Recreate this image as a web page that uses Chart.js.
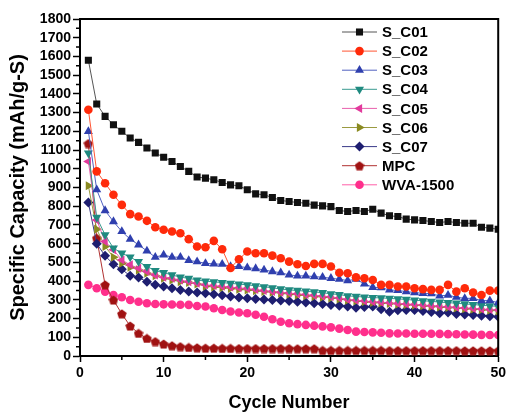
<!DOCTYPE html>
<html>
<head>
<meta charset="utf-8">
<script src="https://cdn.jsdelivr.net/npm/chart.js@4/dist/chart.umd.min.js"></script>
<style>
  html, body { margin: 0; padding: 0; background: #fff; }
  #wrap { width: 509px; height: 412px; }
</style>
</head>
<body>
<div id="wrap"><canvas id="capChart" width="509" height="412"></canvas></div>
<script>
// cycle numbers
var cycles = [1,2,3,4,5,6,7,8,9,10,11,12,13,14,15,16,17,18,19,20,21,22,23,24,25,
  26,27,28,29,30,31,32,33,34,35,36,37,38,39,40,41,42,43,44,45,46,47,48,49,50];

// specific capacity (mAh/g-S)
var sC01 = [1580,1346,1280,1235,1200,1164,1141,1111,1084,1062,1039,1012,986,956,950,941,927,914,909,888,
  866,861,847,831,825,820,816,806,802,798,777,772,777,772,784,763,749,745,731,727,724,718,713,718,713,709,709,688,683,677];
var sC02 = [1315,986,923,861,807,758,745,722,688,674,665,656,624,585,581,615,570,470,517,558,
  549,549,536,522,504,490,481,492,492,478,445,442,420,415,406,380,380,371,371,362,357,353,353,380,344,362,339,326,349,349];
var sC03 = [1200,888,777,718,665,624,594,561,528,540,528,528,510,504,495,492,490,478,478,472,
  467,460,451,445,433,428,428,424,421,415,410,403,410,385,367,365,353,350,344,339,335,333,321,325,314,308,308,296,296,285];
var sC04 = [1084,740,647,576,549,528,504,478,456,445,433,421,415,406,400,396,392,388,384,380,
  375,370,364,358,353,350,346,342,338,332,328,321,318,315,312,310,308,305,302,298,295,292,288,285,282,278,275,271,268,265];
var sC05 = [1039,727,611,567,513,487,469,451,433,421,415,406,397,388,380,376,372,368,364,360,
  355,350,345,340,336,332,328,324,320,316,310,302,298,294,290,287,284,281,278,275,272,269,266,263,260,257,254,251,248,246];
var sC06 = [909,677,585,528,496,474,460,442,428,415,406,397,392,385,372,368,364,360,356,352,
  348,344,340,335,330,326,322,318,314,310,305,298,294,290,286,283,280,277,274,271,268,265,262,259,256,253,250,247,244,241];
var sC07 = [820,600,535,490,463,428,419,397,380,371,362,353,344,339,335,330,325,318,312,308,
  305,302,299,296,294,290,286,282,278,273,268,264,258,262,264,250,237,245,246,246,240,235,228,232,225,222,219,215,212,210];
var mpc = [1135,629,380,299,225,160,121,94,77,64,55,50,46,44,42,42,41,41,40,40,
  40,40,40,40,40,39,39,39,30,30,30,30,30,30,30,30,29,29,29,29,29,29,29,29,29,28,28,28,28,28];
var wva = [380,362,344,326,314,299,290,282,278,276,275,274,273,267,264,255,246,238,232,228,
  220,210,196,183,175,170,166,162,158,153,146,139,130,128,126,124,121,120,120,119,119,119,118,117,116,115,114,113,112,112];

var xTicks = [0, 10, 20, 30, 40, 50];
var fontFamily = "'Liberation Sans', Arial, sans-serif";

// pentagon marker for MPC
function pentagon(color, size) {
  var c = document.createElement("canvas");
  c.width = size;
  c.height = size;
  var g = c.getContext("2d");
  var r = size / 2;
  g.fillStyle = color;
  g.beginPath();
  for (var i = 0; i < 5; i++) {
    var a = -Math.PI / 2 + i * 2 * Math.PI / 5;
    var px = r + Math.cos(a) * r;
    var py = r + 0.5 + Math.sin(a) * r;
    if (i == 0) g.moveTo(px, py); else g.lineTo(px, py);
  }
  g.closePath();
  g.fill();
  return c;
}

function series(label, values, color, lineColor, style, radius, rotation) {
  return {
    label: label,
    data: values.map(function (v, i) { return { x: cycles[i], y: v }; }),
    borderColor: lineColor,
    backgroundColor: color,
    borderWidth: 1,
    pointStyle: style,
    pointRotation: rotation || 0,
    pointRadius: radius,
    pointBackgroundColor: color,
    pointBorderColor: color,
    pointBorderWidth: 0,
    tension: 0,
  };
}

var datasets = [
  series("S_C01", sC01, "#111111", "#555555", "rect", 5),
  series("S_C02", sC02, "#ff2a0a", "#ff5533", "circle", 4.3),
  series("S_C03", sC03, "#2f3fae", "#5060c0", "triangle", 5.2),
  series("S_C04", sC04, "#1f8a80", "#3a9a90", "triangle", 5.2, 180),
  series("S_C05", sC05, "#e23a9c", "#e860ad", "triangle", 5.2, 270),
  series("S_C06", sC06, "#8a8a20", "#9a9a40", "triangle", 5.2, 90),
  series("S_C07", sC07, "#1e1e70", "#3a3a88", "rectRot", 5),
  series("MPC", mpc, "#a01212", "#b03030", pentagon("#a01212", 10), 5),
  series("WVA-1500", wva, "#ff2f8c", "#ff60a8", "circle", 4.3),
];

// frame on top and right, minor ticks
var framePlugin = {
  id: "frame",
  afterDraw: function (chart) {
    let ctx = chart.ctx;
    let a = chart.chartArea;
    let xs = chart.scales.x;
    let ys = chart.scales.y;
    ctx.save();
    ctx.strokeStyle = "#000";
    ctx.lineWidth = 2;
    ctx.beginPath();
    ctx.moveTo(a.left, a.top);
    ctx.lineTo(a.right, a.top);
    ctx.lineTo(a.right, a.bottom);
    ctx.stroke();
    ctx.lineWidth = 1.5;
    ctx.beginPath();
    for (let v = 50; v < 1800; v += 100) {
      let py = ys.getPixelForValue(v);
      ctx.moveTo(a.left - 4, py);
      ctx.lineTo(a.left, py);
    }
    for (let v = 5; v < 50; v += 10) {
      let px = xs.getPixelForValue(v);
      ctx.moveTo(px, a.bottom);
      ctx.lineTo(px, a.bottom + 4);
    }
    ctx.stroke();
    ctx.restore();
  },
};

// legend: line + marker + label
var legendPlugin = {
  id: "lineLegend",
  afterDraw: function (chart) {
    let ctx = chart.ctx;
    ctx.save();
    ctx.font = "bold 15px " + fontFamily;
    ctx.textBaseline = "middle";
    ctx.fillStyle = "#000";
    chart.data.datasets.forEach(function (ds, i) {
      let y = 32 + i * 19.1;
      ctx.strokeStyle = ds.borderColor;
      ctx.lineWidth = 1;
      ctx.beginPath();
      ctx.moveTo(342, y);
      ctx.lineTo(377, y);
      ctx.stroke();
      ctx.fillStyle = ds.pointBackgroundColor;
      ctx.strokeStyle = ds.pointBorderColor;
      Chart.helpers.drawPoint(ctx, {
        pointStyle: ds.pointStyle,
        rotation: ds.pointRotation,
        radius: ds.pointRadius,
        borderWidth: 0,
      }, 359.5, y);
      ctx.fillStyle = "#000";
      ctx.fillText(ds.label, 382, y + 1);
    });
    ctx.restore();
  },
};

const ctx = document.getElementById("capChart");
var chart = new Chart(ctx, {
  type: "line",
  data: { datasets: datasets },
  plugins: [framePlugin, legendPlugin],
  options: {
    responsive: false,
    animation: false,
    devicePixelRatio: 1,
    layout: { padding: { top: 19, right: 9, left: 0, bottom: 0 } },
    plugins: { legend: { display: false }, tooltip: { enabled: false } },
    scales: {
      x: {
        type: "linear",
        min: 0,
        max: 50,
        afterBuildTicks: function (scale) {
          scale.ticks = xTicks.map(function (v) { return { value: v }; });
        },
        afterFit: function (scale) { scale.height = 56; },
        ticks: {
          color: "#000",
          font: { family: fontFamily, size: 14, weight: "bold" },
          padding: 3,
          maxRotation: 0,
          autoSkip: false,
          callback: function (v) { return String(v); },
        },
        grid: { drawOnChartArea: false, tickLength: 6, tickColor: "#000", tickWidth: 1.5 },
        border: { color: "#000", width: 2 },
        title: {
          display: true,
          text: "Cycle Number",
          color: "#000",
          font: { family: fontFamily, size: 18, weight: "bold", lineHeight: 1 },
          padding: { top: 0, bottom: 0 },
        },
      },
      y: {
        min: 0,
        max: 1800,
        afterFit: function (scale) { scale.width = 80; },
        ticks: {
          stepSize: 100,
          color: "#000",
          font: { family: fontFamily, size: 14, weight: "bold" },
          padding: 2,
          autoSkip: false,
          callback: function (v) { return String(v); },
        },
        grid: { drawOnChartArea: false, tickLength: 7, tickColor: "#000", tickWidth: 1.5 },
        border: { color: "#000", width: 2 },
        title: {
          display: true,
          text: "Specific Capacity (mAh/g-S)",
          color: "#000",
          font: { family: fontFamily, size: 20, weight: "bold", lineHeight: 1.2 },
          padding: { top: 6, bottom: 0 },
        },
      },
    },
  },
});
</script>
</body>
</html>
